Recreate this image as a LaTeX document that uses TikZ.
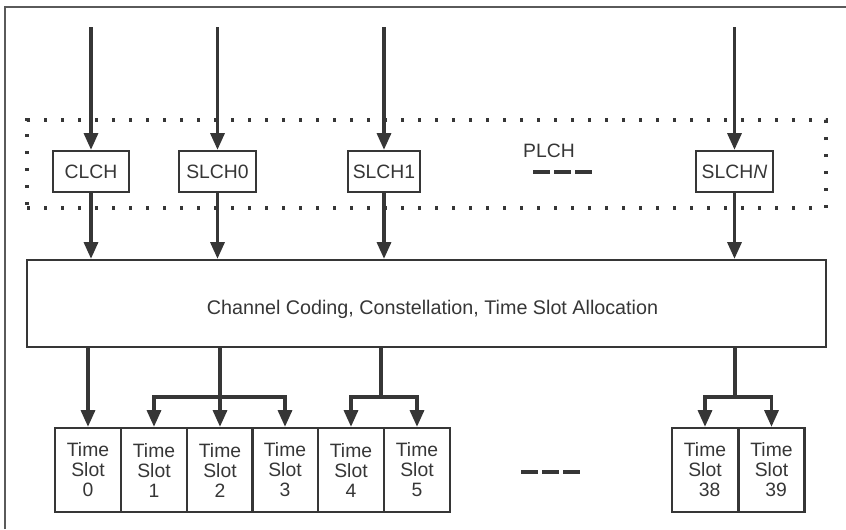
\documentclass[tikz,border=0pt]{standalone}
\usepackage{fontspec}
\setmainfont{Liberation Sans}
\usetikzlibrary{arrows.meta}
\definecolor{ink}{HTML}{363636}
\definecolor{framec}{HTML}{5A5A5A}
\tikzset{
  arr/.style={draw=ink, line width=2.4pt, -{Triangle[length=12.5pt,width=10.5pt]}},
  plain/.style={draw=ink, line width=2.4pt},
  chbox/.style={draw=ink, line width=1.8pt, inner sep=0pt, minimum height=30.75pt, text=ink, font=\fontsize{14.5pt}{15pt}\selectfont},
  slotbox/.style={draw=ink, line width=1.8pt, inner sep=0pt, minimum width=49.5pt, minimum height=63pt, align=center, text=ink, font=\fontsize{14.5pt}{15pt}\selectfont},
  ellip/.style={draw=ink, line width=3pt, dash pattern=on 12.75pt off 3pt},
}
\begin{document}
\begin{tikzpicture}[x=0.75pt,y=-0.75pt]
\useasboundingbox (0,0) rectangle (846,529);
% outer frame (left and top edges visible)
\draw[framec, line width=1.3pt] (5,529) -- (5,7) -- (846,7);

% PLCH dotted region
\node[draw=ink, line width=2.5pt, dash pattern=on 2.5pt off 10.25pt, minimum width=599.25pt, minimum height=66pt, inner sep=0pt] (plch) at (426.5,164) {};
\node[text=ink, font=\fontsize{14.5pt}{15pt}\selectfont] (plchlabel) at (549,151) {PLCH};
\coordinate (pd1) at (533,172);
\coordinate (pd2) at (592,172);
\draw[ellip] (pd1) -- (pd2);

% channel boxes
\node[chbox, minimum width=57pt] (clch) at (91,171.5) {CLCH};
\node[chbox, minimum width=57.75pt] (slch0) at (217.5,171.5) {SLCH0};
\node[chbox, minimum width=54pt] (slch1) at (384,171.5) {SLCH1};
\node[chbox, minimum width=57.75pt] (slchn) at (734.5,171.5) {SLCH\textit{N}};

% input coordinates
\coordinate (in0) at (91,27);
\coordinate (in1) at (217.5,27);
\coordinate (in2) at (384,27);
\coordinate (in3) at (734.5,27);

% big processing box
\node[draw=ink, line width=1.8pt, minimum width=599.25pt, minimum height=65.25pt, inner sep=0pt] (big) at (426.5,303.5) {};
\node[text=ink, font=\fontsize{14.8pt}{15pt}\selectfont, inner sep=0pt] (bigtext) at (432.5,309) {Channel Coding, Constellation, Time Slot Allocation};

% arrows from top
\draw[arr] (in0) -- (clch.north);
\draw[arr] (in1) -- (slch0.north);
\draw[arr] (in2) -- (slch1.north);
\draw[arr] (in3) -- (slchn.north);
\draw[arr] (clch.south) -- (clch.south |- big.north);
\draw[arr] (slch0.south) -- (slch0.south |- big.north);
\draw[arr] (slch1.south) -- (slch1.south |- big.north);
\draw[arr] (slchn.south) -- (slchn.south |- big.north);

% time slots
\node[slotbox] (s0) at (88,470) {Time\\Slot\\0};
\node[slotbox] (s1) at (154,470) {Time\\Slot\\1};
\node[slotbox] (s2) at (220,470) {Time\\Slot\\2};
\node[slotbox] (s3) at (285,470) {Time\\Slot\\3};
\node[slotbox] (s4) at (351,470) {Time\\Slot\\4};
\node[slotbox] (s5) at (417,470) {Time\\Slot\\5};
\node[slotbox] (s38) at (705,470) {Time\\Slot\\\hspace*{7pt}38};
\node[slotbox] (s39) at (771.5,470) {Time\\Slot\\\hspace*{7pt}39};

% ellipsis between slots
\coordinate (bd1) at (521,472);
\coordinate (bd2) at (580,472);
\draw[ellip] (bd1) -- (bd2);

% branch points
\coordinate (j1) at (220,397);
\coordinate (j2) at (381,397);
\coordinate (j3) at (735,397);

% arrows to slots
\draw[arr] (s0.north |- big.south) -- (s0.north);
\draw[plain] (j1 |- big.south) -- (j1);
\draw[arr] (j1) -- (s2.north);
\draw[arr] (j1) -| (s1.north);
\draw[arr] (j1) -| (s3.north);
\draw[plain] (j2 |- big.south) -- (j2);
\draw[arr] (j2) -| (s4.north);
\draw[arr] (j2) -| (s5.north);
\draw[plain] (j3 |- big.south) -- (j3);
\draw[arr] (j3) -| (s38.north);
\draw[arr] (j3) -| (s39.north);
\end{tikzpicture}
\end{document}
